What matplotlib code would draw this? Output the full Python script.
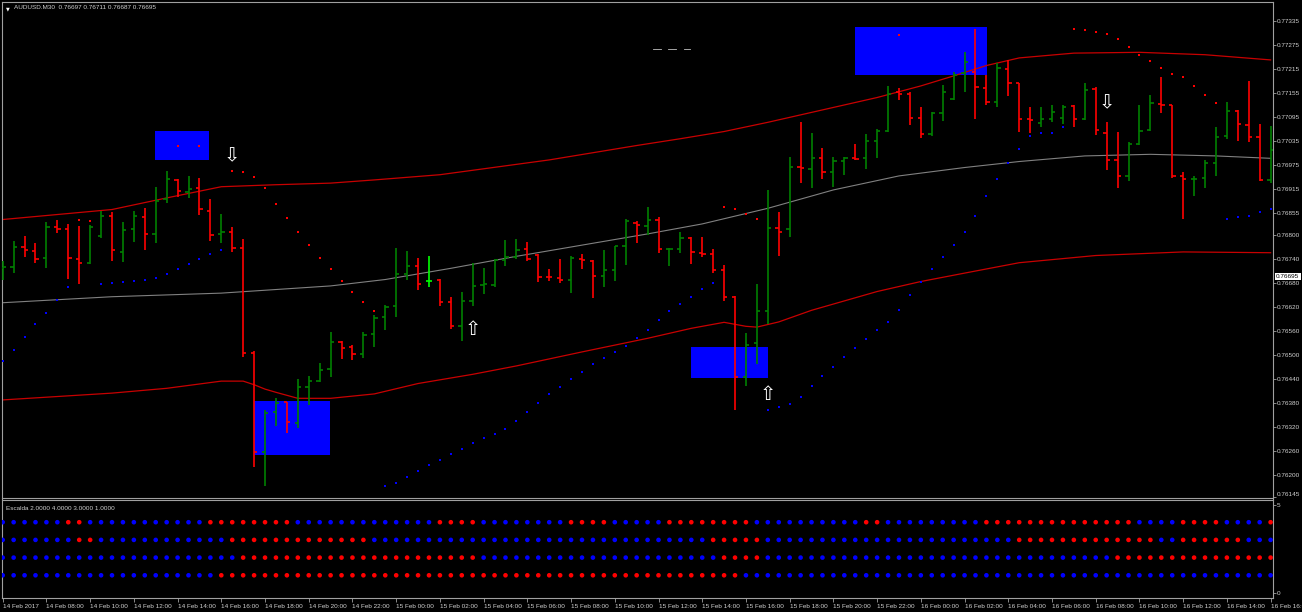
import numpy as np
import pandas as pd
import matplotlib
matplotlib.use('Agg')
import matplotlib.pyplot as plt
from matplotlib.collections import LineCollection
from matplotlib.patches import Rectangle
from matplotlib.transforms import blended_transform_factory

plt.rcParams['font.family'] = ['Liberation Sans', 'DejaVu Sans']

# AUDUSD M30, bar 0 = 14 Feb 2017 06:00
bar_times = pd.date_range('2017-02-14 06:00', periods=117, freq='30min')

opens = [0.76717, 0.76720, 0.76770, 0.76760, 0.76743, 0.76819, 0.76815, 0.76740, 0.76729, 0.76797,
         0.76847, 0.76758, 0.76814, 0.76845, 0.76802, 0.76889, 0.76937, 0.76908, 0.76916, 0.76860,
         0.76801, 0.76807, 0.76767, 0.76505, 0.76257, 0.76357, 0.76382, 0.76329, 0.76419, 0.76435,
         0.76464, 0.76533, 0.76520, 0.76503, 0.76551, 0.76594, 0.76623, 0.76701, 0.76722, 0.76685,
         0.76687, 0.76631, 0.76572, 0.76635, 0.76675, 0.76675, 0.76737, 0.76745, 0.76764, 0.76750,
         0.76695, 0.76693, 0.76687, 0.76740, 0.76735, 0.76697, 0.76712, 0.76772, 0.76829, 0.76822,
         0.76837, 0.76764, 0.76765, 0.76793, 0.76754, 0.76751, 0.76711, 0.76645, 0.76445, 0.76529,
         0.76610, 0.76816, 0.76814, 0.76970, 0.76965, 0.76991, 0.76958, 0.76985, 0.76993, 0.76991,
         0.77035, 0.77060, 0.77157, 0.77152, 0.77091, 0.77051, 0.77105, 0.77139, 0.77204, 0.77206,
         0.77166, 0.77132, 0.77215, 0.77179, 0.77089, 0.77079, 0.77089, 0.77091, 0.77122, 0.77089,
         0.77165, 0.77054, 0.76987, 0.76947, 0.77027, 0.77062, 0.77126, 0.77125, 0.76948, 0.76939,
         0.76941, 0.76979, 0.77047, 0.77110, 0.77075, 0.77045, 0.76937]
highs = [0.76735, 0.76785, 0.76797, 0.76779, 0.76833, 0.76837, 0.76827, 0.76822, 0.76825, 0.76860,
         0.76857, 0.76833, 0.76860, 0.76866, 0.76920, 0.76960, 0.76940, 0.76947, 0.76943, 0.76889,
         0.76852, 0.76819, 0.76789, 0.76510, 0.76362, 0.76391, 0.76382, 0.76439, 0.76447, 0.76480,
         0.76558, 0.76535, 0.76525, 0.76557, 0.76600, 0.76625, 0.76768, 0.76760, 0.76741, 0.76747,
         0.76689, 0.76644, 0.76656, 0.76729, 0.76717, 0.76739, 0.76787, 0.76790, 0.76781, 0.76752,
         0.76715, 0.76740, 0.76747, 0.76752, 0.76737, 0.76762, 0.76773, 0.76839, 0.76835, 0.76870,
         0.76845, 0.76768, 0.76806, 0.76795, 0.76795, 0.76764, 0.76725, 0.76647, 0.76555, 0.76677,
         0.76912, 0.76858, 0.76995, 0.77082, 0.77055, 0.77016, 0.76995, 0.76995, 0.77027, 0.77052,
         0.77064, 0.77172, 0.77167, 0.77158, 0.77120, 0.77108, 0.77175, 0.77208, 0.77258, 0.77314,
         0.77200, 0.77229, 0.77237, 0.77179, 0.77120, 0.77119, 0.77125, 0.77125, 0.77125, 0.77179,
         0.77170, 0.77081, 0.77058, 0.77031, 0.77125, 0.77150, 0.77195, 0.77125, 0.76958, 0.76947,
         0.76987, 0.77070, 0.77131, 0.77112, 0.77185, 0.77076, 0.77072]
lows = [0.76687, 0.76705, 0.76745, 0.76729, 0.76718, 0.76805, 0.76689, 0.76677, 0.76726, 0.76791,
        0.76735, 0.76731, 0.76783, 0.76762, 0.76780, 0.76879, 0.76895, 0.76893, 0.76850, 0.76785,
        0.76780, 0.76756, 0.76494, 0.76220, 0.76173, 0.76323, 0.76304, 0.76316, 0.76375, 0.76433,
        0.76444, 0.76490, 0.76487, 0.76493, 0.76520, 0.76562, 0.76595, 0.76687, 0.76662, 0.76670,
        0.76622, 0.76564, 0.76535, 0.76622, 0.76652, 0.76669, 0.76723, 0.76740, 0.76735, 0.76683,
        0.76685, 0.76679, 0.76654, 0.76714, 0.76643, 0.76670, 0.76685, 0.76725, 0.76779, 0.76800,
        0.76754, 0.76722, 0.76754, 0.76726, 0.76745, 0.76704, 0.76635, 0.76362, 0.76422, 0.76477,
        0.76577, 0.76747, 0.76795, 0.76930, 0.76918, 0.76940, 0.76920, 0.76950, 0.76987, 0.76965,
        0.76993, 0.77058, 0.77137, 0.77075, 0.77043, 0.77047, 0.77085, 0.77137, 0.77158, 0.77089,
        0.77125, 0.77119, 0.77147, 0.77058, 0.77054, 0.77070, 0.77083, 0.77077, 0.77070, 0.77087,
        0.77050, 0.76962, 0.76918, 0.76935, 0.77025, 0.77060, 0.77104, 0.76941, 0.76839, 0.76897,
        0.76916, 0.76947, 0.77039, 0.77035, 0.77033, 0.76935, 0.76929]
closes = [0.76720, 0.76770, 0.76762, 0.76740, 0.76819, 0.76815, 0.76741, 0.76729, 0.76819, 0.76847,
          0.76761, 0.76812, 0.76847, 0.76802, 0.76885, 0.76939, 0.76910, 0.76914, 0.76864, 0.76800,
          0.76808, 0.76767, 0.76505, 0.76258, 0.76355, 0.76379, 0.76331, 0.76419, 0.76435, 0.76462,
          0.76533, 0.76518, 0.76501, 0.76550, 0.76591, 0.76620, 0.76702, 0.76722, 0.76676, 0.76685,
          0.76631, 0.76572, 0.76635, 0.76673, 0.76677, 0.76737, 0.76745, 0.76762, 0.76740, 0.76695,
          0.76694, 0.76687, 0.76743, 0.76738, 0.76698, 0.76712, 0.76772, 0.76835, 0.76825, 0.76837,
          0.76765, 0.76765, 0.76793, 0.76756, 0.76751, 0.76711, 0.76645, 0.76445, 0.76525, 0.76610,
          0.76818, 0.76808, 0.76970, 0.76966, 0.76991, 0.76958, 0.76985, 0.76993, 0.76990, 0.77035,
          0.77060, 0.77152, 0.77152, 0.77091, 0.77051, 0.77105, 0.77157, 0.77200, 0.77233, 0.77170,
          0.77132, 0.77216, 0.77179, 0.77090, 0.77087, 0.77089, 0.77108, 0.77120, 0.77089, 0.77162,
          0.77062, 0.76987, 0.76947, 0.77027, 0.77060, 0.77129, 0.77124, 0.76948, 0.76939, 0.76940,
          0.76979, 0.77044, 0.77110, 0.77076, 0.77044, 0.76937, 0.77012]

# parabolic SAR
sar = [0.76485, 0.76512, 0.76544, 0.76577, 0.76605, 0.76637, 0.76670, 0.76836, 0.76835, 0.76677,
       0.76680, 0.76683, 0.76685, 0.76688, 0.76693, 0.76701, 0.76715, 0.76727, 0.76740, 0.76751,
       0.76763, 0.76960, 0.76957, 0.76945, 0.76917, 0.76878, 0.76841, 0.76808, 0.76775, 0.76742,
       0.76714, 0.76685, 0.76658, 0.76632, 0.76609, 0.76173, 0.76180, 0.76194, 0.76210, 0.76225,
       0.76237, 0.76252, 0.76265, 0.76279, 0.76291, 0.76302, 0.76315, 0.76334, 0.76358, 0.76380,
       0.76402, 0.76420, 0.76440, 0.76458, 0.76476, 0.76492, 0.76506, 0.76522, 0.76542, 0.76562,
       0.76587, 0.76610, 0.76627, 0.76645, 0.76664, 0.76680, 0.76869, 0.76865, 0.76852, 0.76840,
       0.76362, 0.76370, 0.76377, 0.76394, 0.76421, 0.76447, 0.76470, 0.76495, 0.76517, 0.76540,
       0.76561, 0.76581, 0.76612, 0.76650, 0.76681, 0.76715, 0.76745, 0.76775, 0.76807, 0.76847,
       0.76897, 0.76940, 0.76980, 0.77015, 0.77047, 0.77055, 0.77055, 0.77070, 0.77315, 0.77311,
       0.77307, 0.77301, 0.77290, 0.77270, 0.77250, 0.77235, 0.77217, 0.77202, 0.77195, 0.77171,
       0.77149, 0.77130, 0.76840, 0.76845, 0.76847, 0.76857, 0.76865]

# channel lines, read at sample bars
upper_idx = [0, 10, 15, 20, 25, 30, 34, 40, 50, 58, 62, 66, 70, 75, 80, 84, 87, 90, 93, 98, 104, 110, 116]
upper_val = [0.76838, 0.76863, 0.76892, 0.76920, 0.76925, 0.76929, 0.76937, 0.76950, 0.76987, 0.77023,
             0.77040, 0.77058, 0.77081, 0.77112, 0.77143, 0.77172, 0.77197, 0.77223, 0.77242, 0.77254,
             0.77256, 0.77250, 0.77237]
mid_idx = [0, 10, 20, 30, 35, 41, 47, 53, 59, 64, 70, 76, 82, 88, 93, 99, 105, 111, 116]
mid_val = [0.76630, 0.76645, 0.76654, 0.76672, 0.76688, 0.76716, 0.76746, 0.76774, 0.76802, 0.76827,
           0.76866, 0.76912, 0.76947, 0.76968, 0.76983, 0.76997, 0.77001, 0.76997, 0.76991]
lower_idx = [0, 10, 15, 20, 22, 23, 24, 25, 27, 30, 34, 38, 43, 47, 53, 59, 63, 66, 68, 69, 71, 74,
             80, 84, 88, 93, 100, 108, 116]
lower_val = [0.76387, 0.76404, 0.76416, 0.76434, 0.76434, 0.76425, 0.76414, 0.76406, 0.76391, 0.76391,
             0.76402, 0.76428, 0.76451, 0.76472, 0.76507, 0.76541, 0.76566, 0.76581, 0.76571, 0.76569,
             0.76582, 0.76611, 0.76658, 0.76683, 0.76704, 0.76730, 0.76748, 0.76757, 0.76755]

# blue zones: bar from, bar to, price top, price bottom
zones = [(13.9, 18.9, 0.77060, 0.76987),
         (23.0, 29.95, 0.76385, 0.76250),
         (63.0, 70.0, 0.76520, 0.76443),
         (78.0, 90.05, 0.77319, 0.77200)]
zone_dots = [(16, 0.77021), (18, 0.77021), (82, 0.77300)]

# signal arrows
arrows = [(21, 0.76997, 'down'), (43, 0.76562, 'up'), (70, 0.76400, 'up'), (101, 0.77130, 'down')]

# Escalda rows (B = blue, R = red), one letter per bar
escalda_levels = [4, 3, 2, 1]
escalda_rows = [
    'BBBBBBRRBBBBBBBBBBBRRRRRRRRBBBBBBBBBBBBBRRRRBBBBBBBBRRRRBBBBBRRRRRRRRBBBBBBBBBBRRBBBBBBBBBRRRRRRRRRRRRRRBBBBRRRRBBBBR',
    'BBBBBBBRRBBBBBBBBBBBBRRRRRRRRRRRRRBBBBBBBBBBBBBBBBBBBBBBBBBBBBBBBRRRRRBBBBBBBBBBBBBBBBBBBBBBBRRRRRRRRRRRRRBBRRRRRRBBB',
    'BBBBBBBBBBBBBBBBBBBBBBRRRRRRRRRRRRRRRRRRRRRRBBBBBBBBBBBBBBBBBBBBBBRRRRBBBBBBBBBBBBBBBBBBBBBBBBBBBBBBBBRRRRRRRRRRRRRRR',
    'BBBBBBBBBBBBBBBBBBBBRRRRRRRRRRRRRRRRRRRRRRRRRRRRRRRRRRRRRRRRRRRRRRRRBBBBBBBBBBBBBBBBBBBBBBBBBBBBBBBBBBBBBBBBBBBBBBBBB',
]

price_ticks = [0.77335, 0.77275, 0.77215, 0.77155, 0.77095, 0.77035, 0.76975, 0.76915, 0.76855,
               0.76800, 0.76740, 0.76680, 0.76620, 0.76560, 0.76500, 0.76440, 0.76380, 0.76320,
               0.76260, 0.76200, 0.76145]
last_price = 0.76695
title_text = 'AUDUSD.M30  0.76697 0.76711 0.76687 0.76695'

BG = 'black'
FRAME = '#a0a0a0'
TXT = '#d0d0d0'
BAR_UP = '#008000'
BAR_DN = '#ff0000'

n = len(opens)
x = np.arange(n)
W, H = 1302, 612
fig = plt.figure(figsize=(W / 100, H / 100), dpi=100, facecolor=BG)
ax = fig.add_axes([2 / W, 1 - 498 / H, 1271 / W, 496.5 / H], facecolor=BG)
ax2 = fig.add_axes([2 / W, 1 - 598 / H, 1271 / W, 98.5 / H], facecolor=BG)

xlim = (-0.064, 116.22)
for a in (ax, ax2):
    a.set_xlim(*xlim)
    for s in a.spines.values():
        s.set_color(FRAME)
        s.set_linewidth(0.8)

ax.set_ylim(0.761418, 0.7738305)

# zones
for x0, x1, ptop, pbot in zones:
    ax.add_patch(Rectangle((x0, pbot), x1 - x0, ptop - pbot, facecolor='#0000ff',
                           edgecolor='none', zorder=1))

# channel
ax.plot(upper_idx, upper_val, color='#c80000', lw=0.9, zorder=2)
ax.plot(lower_idx, lower_val, color='#c80000', lw=0.9, zorder=2)
ax.plot(mid_idx, mid_val, color='#808080', lw=0.8, zorder=2)

# OHLC bars
segs, cols = [], []
for i in range(n):
    o, h, l, c = opens[i], highs[i], lows[i], closes[i]
    if c > o:
        col = BAR_UP
    elif c < o:
        col = BAR_DN
    else:
        col = '#00ff00'
    segs += [[(i, l), (i, h)], [(i - 0.3, o), (i, o)], [(i, c), (i + 0.3, c)]]
    cols += [col] * 3
ax.add_collection(LineCollection(segs, colors=cols, linewidths=1.2, zorder=3, capstyle='butt'))

# SAR
sar = np.array(sar)
above = sar > np.array(closes)
ax.scatter(x[above], sar[above], s=4, marker='s', color='#ff0000', lw=0, zorder=4)
ax.scatter(x[~above], sar[~above], s=4, marker='s', color='#0000ff', lw=0, zorder=4)
zd = np.array(zone_dots)
ax.scatter(zd[:, 0], zd[:, 1], s=4, marker='s', color='#ff0000', lw=0, zorder=4)

# arrows
for xi, p, d in arrows:
    ax.text(xi, p, '\u21e9' if d == 'down' else '\u21e7', color='white', fontsize=14,
            ha='center', va='center', family='DejaVu Sans', zorder=5)

# price axis
ax.yaxis.tick_right()
ax.set_yticks(price_ticks)
ax.set_yticklabels(['%.5f' % p for p in price_ticks])
ax.tick_params(axis='y', colors=FRAME, labelcolor=TXT, length=2, width=0.6, pad=1, labelsize=4.6)
ax.get_yticklabels()[-1].set_va('bottom')
ax.set_xticks([])

tr = blended_transform_factory(ax.transAxes, ax.transData)
ax.text(1.0025, last_price, '%.5f' % last_price, transform=tr, fontsize=4.6, color='black',
        va='center', ha='left', zorder=6,
        bbox=dict(boxstyle='square,pad=0.2', facecolor='white', edgecolor='none'))

ax.text(0.0035, 0.991, '\u25bc', transform=ax.transAxes, fontsize=3.5, color='white',
        va='top', ha='left', family='DejaVu Sans')
ax.text(0.0095, 0.992, title_text, transform=ax.transAxes, fontsize=4.6, color=TXT,
        va='top', ha='left')

# small dashes near the top
for d0, d1 in [(59.5, 60.2), (60.9, 61.6), (62.3, 62.9)]:
    ax.plot([d0, d1], [0.77265, 0.77265], color='#c0c0c0', lw=0.6)

# Escalda panel
ax2.set_ylim(-0.284, 5.284)
for lvl, row in zip(escalda_levels, escalda_rows):
    c = ['#ff0000' if ch == 'R' else '#0000ff' for ch in row]
    ax2.scatter(x[:len(row)], [lvl] * len(row), s=11, color=c, lw=0, zorder=3)
ax2.text(0.0035, 0.93, 'Escalda 2.0000 4.0000 3.0000 1.0000', transform=ax2.transAxes,
         fontsize=4.6, color=TXT, va='top', ha='left')
ax2.yaxis.tick_right()
ax2.set_yticks([0, 5])
ax2.set_yticklabels(['0', '5'])
ax2.tick_params(axis='y', colors=FRAME, labelcolor=TXT, length=2, width=0.6, pad=1, labelsize=4.6)

# time axis
tick_bars = list(range(0, n, 4))
labels = []
for b in tick_bars:
    t = bar_times[b]
    labels.append(t.strftime('%d %b %Y') if b == 0 else t.strftime('%d %b %H:%M'))
ax2.set_xticks(tick_bars)
ax2.set_xticklabels(labels)
ax2.tick_params(axis='x', colors=FRAME, labelcolor=TXT, length=3, width=0.6, pad=1, labelsize=4.6)
for lab in ax2.get_xticklabels():
    lab.set_ha('left')

fig.savefig('out.png', dpi=100, facecolor=BG)
